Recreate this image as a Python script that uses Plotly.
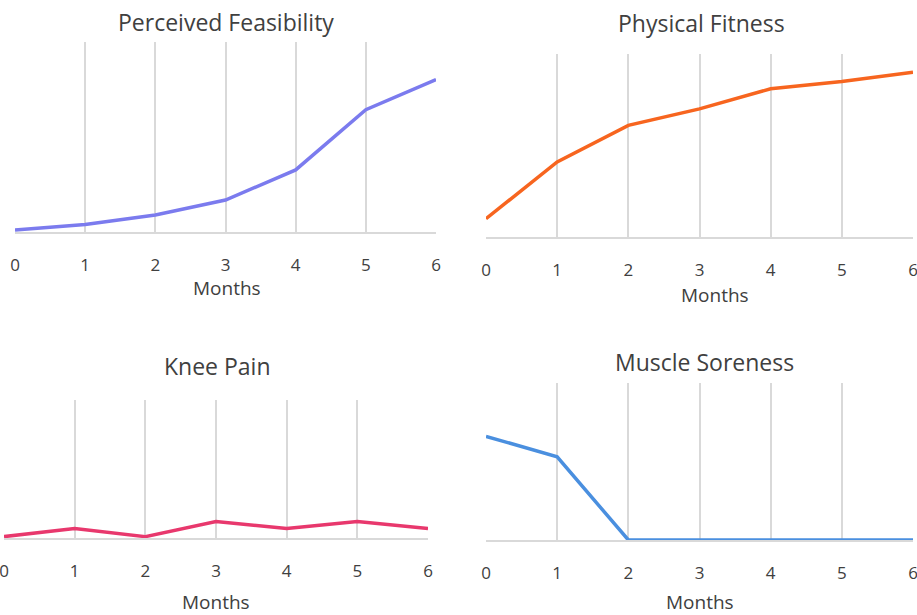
import plotly.graph_objects as go

# Data (relative score, 0-100 scale)
months = [0, 1, 2, 3, 4, 5, 6]
feasibility = [0, 3, 8, 16, 32, 64, 80]
fitness = [10, 41, 61, 70, 81, 85, 90]
knee_pain = [0, 6, 0, 11, 6, 11, 6]
soreness = [66, 53, 0, 0, 0, 0, 0]

titles = ['Perceived Feasibility', 'Physical Fitness', 'Knee Pain', 'Muscle Soreness']
colors = ['#7b7bee', '#f7651f', '#e8386d', '#4a8fdf']
series = [feasibility, fitness, knee_pain, soreness]

W, H = 917, 615
# panel boxes in pixels: (left, right, top, bottom)
boxes = [(15, 436, 42, 232), (486, 913, 54, 237), (4, 428, 400, 538), (486, 913, 383, 540)]
title_pos = [(226, 22), (701, 23), (217, 366), (704, 362)]
months_pos = [(227, 288), (715, 295), (216, 602), (700, 602)]
yranges = [[-1, 100], [0, 100], [-1, 100], [0, 100]]

fig = go.Figure()
layout = dict(width=W, height=H, margin=dict(l=0, r=0, t=0, b=0),
              paper_bgcolor='white', plot_bgcolor='white', showlegend=False,
              font=dict(family='Open Sans', color='#404040'))
annotations = []
for i in range(4):
    n = '' if i == 0 else str(i + 1)
    l, r, t, b = boxes[i]
    fig.add_trace(go.Scatter(x=months, y=series[i], mode='lines',
                             line=dict(color=colors[i], width=3.5),
                             xaxis='x' + n, yaxis='y' + n, hoverinfo='x+y'))
    layout['xaxis' + n] = dict(domain=[l / W, r / W], range=[0, 6], anchor='y' + n,
                               tickvals=months, showgrid=True, gridcolor='#d9d9d9', gridwidth=1.5,
                               showline=True, linecolor='#d9d9d9', linewidth=2, zeroline=False,
                               ticks='outside', ticklen=17, tickcolor='rgba(0,0,0,0)',
                               ticklabeloverflow='allow',
                               tickfont=dict(size=17, color='#404040'), automargin=False)
    layout['yaxis' + n] = dict(domain=[1 - b / H, 1 - t / H], range=yranges[i], anchor='x' + n,
                               showgrid=False, zeroline=False, showticklabels=False,
                               automargin=False)
    annotations.append(dict(text=titles[i], x=title_pos[i][0] / W, y=1 - title_pos[i][1] / H,
                            xref='paper', yref='paper', showarrow=False,
                            xanchor='center', yanchor='middle',
                            font=dict(size=23, color='#404040')))
    annotations.append(dict(text='Months', x=months_pos[i][0] / W, y=1 - months_pos[i][1] / H,
                            xref='paper', yref='paper', showarrow=False,
                            xanchor='center', yanchor='middle',
                            font=dict(size=19, color='#404040')))
layout['annotations'] = annotations
fig.update_layout(**layout)
# drop the default page margin so the figure sits at the window corner
fig.write_html("out.html", config={'displayModeBar': False},
               post_script="document.body.style.margin='0';")
